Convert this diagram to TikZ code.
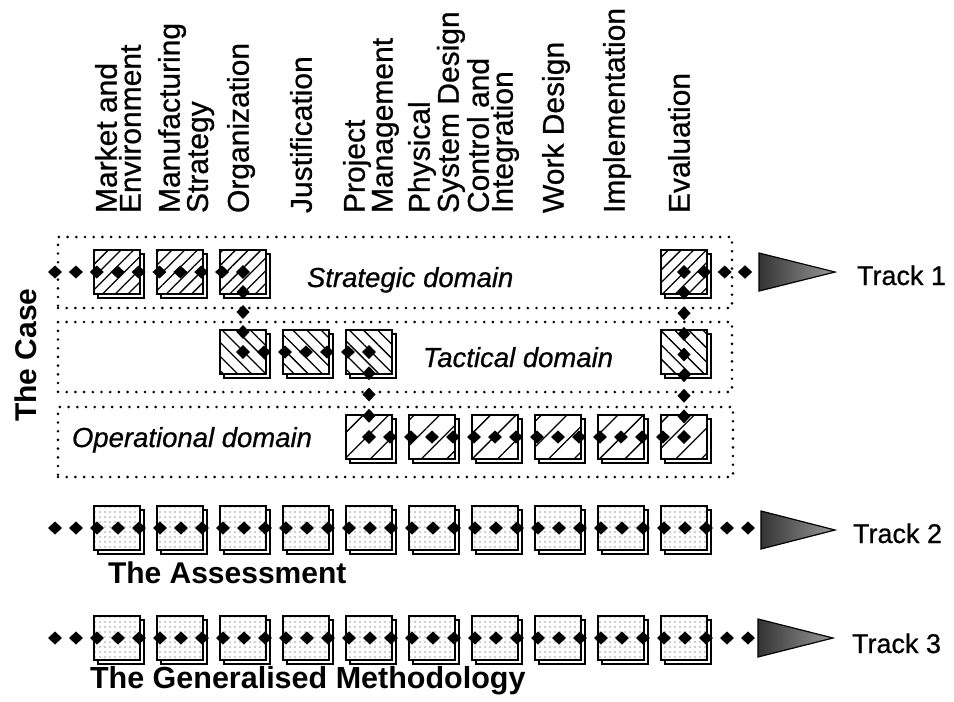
\documentclass[tikz,border=0pt]{standalone}
\usepackage{fontspec}
\setmainfont{Liberation Sans}
\newfontfamily\thk{Liberation Sans}[FakeBold=0.7]
\usetikzlibrary{patterns.meta,shadows,decorations.markings}
\begin{document}
\begin{tikzpicture}[x=1pt,y=-1pt,
  every node/.style={inner sep=0pt, outer sep=0pt},
  boxbase/.style={rectangle, minimum width=46pt, minimum height=44pt, draw=black, line width=2pt,
     general shadow={draw=black, fill=white, line width=1.4pt, shadow xshift=4pt, shadow yshift=-4pt},
     preaction={fill=white}},
  sbox/.style={boxbase, pattern={Lines[angle=45,distance=9pt,line width=1.3pt]}},
  tbox/.style={boxbase, pattern={Lines[angle=-45,distance=10pt,line width=1.3pt]}},
  obox/.style={boxbase, pattern={Lines[angle=45,distance=18pt,line width=1.3pt]}},
  pbox/.style={boxbase, pattern={Dots[distance=5pt,radius=0.65pt]}, pattern color=black!80},
  frame/.style={draw=black, line width=2.9pt, line cap=round, dash pattern=on 0pt off 8.7pt, rectangle},
  dchain/.style={decorate, decoration={markings,
     mark=between positions 0 and 1 step #1 with {\fill (-7pt,0pt)--(0pt,6.5pt)--(7pt,0pt)--(0pt,-6.5pt)--cycle;},
     mark=at position 1 with {\fill (-7pt,0pt)--(0pt,6.5pt)--(7pt,0pt)--(0pt,-6.5pt)--cycle;}}},
  arrowtri/.style={draw=black, line width=1.2pt, left color=black!80, right color=black!40},
  collabel/.style={rotate=90, anchor=north west, align=left, font=\thk\fontsize{30}{24}\selectfont},
  domlabel/.style={anchor=base west, font=\thk\itshape\fontsize{27.5}{30}\selectfont},
  tracklabel/.style={anchor=base west, font=\thk\fontsize{27}{30}\selectfont},
  boldlabel/.style={font=\bfseries\fontsize{30}{30}\selectfont}
]
\useasboundingbox (0,0) rectangle (954,702);

% column labels
\node[collabel] (l0) at (95,213) {Market and\\Environment};
\node[collabel] (l1) at (158,213) {Manufacturing\\Strategy};
\node[collabel] (l2) at (227,213) {Organization};
\node[collabel] (l3) at (290,213) {Justification};
\node[collabel] (l4) at (343,213) {Project\\Management};
\node[collabel] (l5) at (408,213) {Physical\\System Design};
\node[collabel] (l6) at (467,213) {Control and\\Integration};
\node[collabel] (l7) at (542,213) {Work Design};
\node[collabel] (l8) at (603,213) {Implementation};
\node[collabel] (l9) at (668,213) {Evaluation};

% domain frames
\node[frame, minimum width=674pt, minimum height=71pt] (strat) at (395,272.5) {};
\node[frame, minimum width=674pt, minimum height=70pt] (tact) at (395,357) {};
\node[frame, minimum width=675pt, minimum height=70pt] (oper) at (395.5,442) {};

\node[domlabel] (sdl) at (307,287) {Strategic domain};
\node[domlabel] (tdl) at (423,367) {Tactical domain};
\node[domlabel] (odl) at (72,447) {Operational domain};

\node[boldlabel, rotate=90] (case) at (26,355) {The Case};

% Track 1 boxes
\node[sbox] (s0) at (117,272) {};
\node[sbox] (s1) at (180,272) {};
\node[sbox] (s2) at (243,272) {};
\node[sbox] (s9) at (684,272) {};
\node[tbox] (t2) at (243,352) {};
\node[tbox] (t3) at (306,352) {};
\node[tbox] (t4) at (369,352) {};
\node[tbox] (t9) at (684,352) {};
\foreach \i in {4,...,9} {
  \node[obox] (o\i) at ({117+63*\i},437) {};
}

% Track 2 and 3 boxes
\foreach \i in {0,...,9} {
  \node[pbox] (a\i) at ({117+63*\i},528) {};
  \node[pbox] (g\i) at ({117+63*\i},638) {};
}

% chain end points
\coordinate (c1s) at (55,272);
\coordinate (c1e) at (745,272);
\coordinate (c2s) at (55,528);
\coordinate (c2e) at (748,528);
\coordinate (c3s) at (55,638);
\coordinate (c3e) at (748,638);

% Track 1 chain
\path[dchain=20.89pt] (c1s) -- (s2.center);
\path[dchain=20pt] (s2.center) -- (t2.center);
\path[dchain=21pt] (t2.center) -- (t4.center);
\path[dchain=21.25pt] (t4.center) -- (o4.center);
\path[dchain=21pt] (o4.center) -- (o9.center);
\path[dchain=20.625pt] (o9.center) -- (s9.center);
\path[dchain=20.33pt] (s9.center) -- (c1e);

% Track 2 and 3 chains
\path[dchain=21pt] (c2s) -- (a0.center) -- (a9.center) -- (c2e);
\path[dchain=21pt] (c3s) -- (g0.center) -- (g9.center) -- (c3e);

% arrow heads
\coordinate (h1) at (759,272);
\coordinate (h2) at (761,530);
\coordinate (h3) at (758,638);
\draw[arrowtri] (h1) -- ++(0,-19) -- ++(76,19) -- ++(-76,19) -- cycle;
\draw[arrowtri] (h2) -- ++(0,-19) -- ++(74,19) -- ++(-74,19) -- cycle;
\draw[arrowtri] (h3) -- ++(0,-19) -- ++(75,19) -- ++(-75,19) -- cycle;

\node[tracklabel] (tr1) at (857,285) {Track 1};
\node[tracklabel] (tr2) at (853,543) {Track 2};
\node[tracklabel] (tr3) at (852,653) {Track 3};

\node[boldlabel, anchor=base west] (assess) at (108,583) {The Assessment};
\node[boldlabel, anchor=base west, font=\bfseries\fontsize{30.5}{30}\selectfont] (gen) at (90,688) {The Generalised Methodology};
\end{tikzpicture}
\end{document}
